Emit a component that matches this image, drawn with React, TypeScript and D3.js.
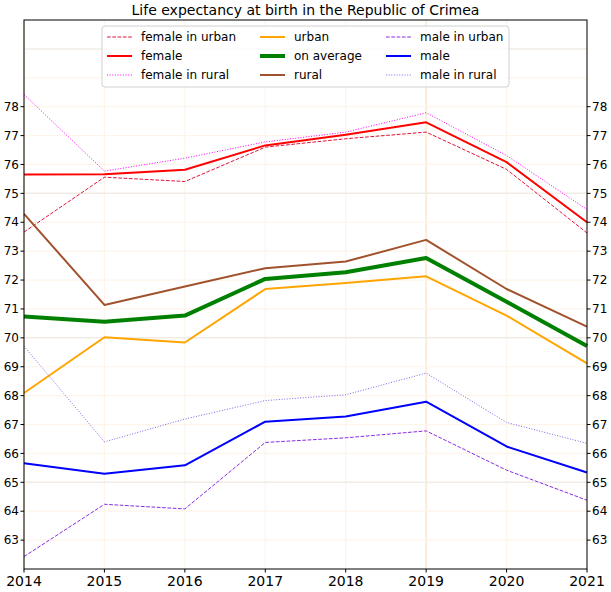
import React from "react";
import * as d3 from "d3";

const years = [2014, 2015, 2016, 2017, 2018, 2019, 2020, 2021];
const femaleUrban = [73.66, 75.56, 75.41, 76.6, 76.89, 77.12, 75.83, 73.63];
const female = [75.65, 75.66, 75.82, 76.66, 77.03, 77.46, 76.08, 74.0];
const femaleRural = [78.42, 75.77, 76.22, 76.78, 77.12, 77.79, 76.31, 74.44];
const urban = [68.09, 70.02, 69.84, 71.69, 71.9, 72.13, 70.77, 69.12];
const average = [70.74, 70.56, 70.77, 72.04, 72.27, 72.76, 71.25, 69.72];
const rural = [74.29, 71.14, 71.78, 72.41, 72.64, 73.39, 71.69, 70.39];
const maleUrban = [62.43, 64.24, 64.08, 66.38, 66.54, 66.78, 65.42, 64.38];
const male = [65.66, 65.3, 65.59, 67.1, 67.28, 67.79, 66.24, 65.34];
const maleRural = [69.71, 66.4, 67.19, 67.83, 68.03, 68.78, 67.07, 66.35];
const yTicks = [63, 64, 65, 66, 67, 68, 69, 70, 71, 72, 73, 74, 75, 76, 77, 78];
const yGrid = [63, 64, 65, 66, 67, 68, 69, 70, 71, 72, 73, 74, 75, 76, 77, 78, 79, 80];

type S = { name: string; data: number[]; color: string; width: number; dash?: string };
const series: S[] = [
  { name: "female in urban", data: femaleUrban, color: "#dc143c", width: 1, dash: "3.7,1.6" },
  { name: "female", data: female, color: "#ff0000", width: 2 },
  { name: "female in rural", data: femaleRural, color: "#ff00ff", width: 1, dash: "1,1.65" },
  { name: "urban", data: urban, color: "#ffa500", width: 2 },
  { name: "on average", data: average, color: "#008000", width: 4 },
  { name: "rural", data: rural, color: "#a0522d", width: 2 },
  { name: "male in urban", data: maleUrban, color: "#8a2be2", width: 1, dash: "3.7,1.6" },
  { name: "male", data: male, color: "#0000ff", width: 2 },
  { name: "male in rural", data: maleRural, color: "#7b68ee", width: 1, dash: "1,1.65" },
];
const drawOrder = [0, 1, 2, 3, 5, 6, 7, 8, 4];

const W = 611, H = 592;
const L = 24, R = 587, T = 20, B = 569;
const FONT = "DejaVu Sans, sans-serif";

export default function App() {
  const x = d3.scaleLinear().domain([2014, 2021]).range([L, R]);
  const y = d3.scaleLinear().domain([62, 81]).range([B, T]);
  const line = d3
    .line<number>()
    .x((_, i) => x(years[i]))
    .y((d) => y(d));

  const legCols = [
    { lx: 107, tx: 141 },
    { lx: 260, tx: 294 },
    { lx: 386, tx: 420 },
  ];
  const legRows = [37, 56, 75];

  return (
    <svg width={W} height={H} style={{ position: "absolute", left: 0, top: 0, background: "#fff" }} fontFamily={FONT}>
      {/* grid */}
      {years.map((yr) => (
        <line key={"vg" + yr} x1={x(yr)} x2={x(yr)} y1={T} y2={B}
          stroke={(yr - 2014) % 5 === 0 ? "#fbe8d4" : "#fef4ea"} strokeWidth={yr % 5 === 4 ? 1.5 : 1.2} />
      ))}
      {yGrid.map((v) => (
        <line key={"hg" + v} x1={L} x2={R} y1={y(v)} y2={y(v)}
          stroke={v % 5 === 0 ? "#f1ebe5" : "#fdf4ea"} strokeWidth={v % 5 === 0 ? 1.5 : 1.2} />
      ))}
      {/* lines */}
      {drawOrder.map((i) => {
        const s = series[i];
        return (
          <path key={s.name} d={line(s.data) || ""} fill="none" stroke={s.color}
            strokeWidth={s.width} strokeDasharray={s.dash} strokeLinejoin="round" />
        );
      })}
      {/* frame */}
      <rect x={L} y={T} width={R - L} height={B - T} fill="none" stroke="#000" strokeWidth={1} />
      {/* y ticks left & right */}
      {yTicks.map((v) => (
        <g key={"yt" + v}>
          <line x1={L - 3.5} x2={L} y1={y(v)} y2={y(v)} stroke="#000" />
          <text x={L - 5} y={y(v)} dy="0.35em" textAnchor="end" fontSize={12} fill="#000">{v}</text>
          <line x1={R} x2={R + 3.5} y1={y(v)} y2={y(v)} stroke="#000" />
          <text x={R + 5} y={y(v)} dy="0.35em" textAnchor="start" fontSize={12} fill="#000">{v}</text>
        </g>
      ))}
      {/* x ticks */}
      {years.map((yr) => (
        <g key={"xt" + yr}>
          <line x1={x(yr)} x2={x(yr)} y1={B} y2={B + 3.5} stroke="#000" />
          <text x={x(yr)} y={B + 17} textAnchor="middle" fontSize={14} fill="#000">{yr}</text>
        </g>
      ))}
      {/* title */}
      <text x={(L + R) / 2} y={15} textAnchor="middle" fontSize={14} fill="#000">
        Life expectancy at birth in the Republic of Crimea
      </text>
      {/* legend */}
      <rect x={102} y={26} width={407} height={61} rx={3} fill="#fff" fillOpacity={0.8} stroke="#d0d0d0" strokeWidth={1} />
      {series.map((s, i) => {
        const c = legCols[Math.floor(i / 3)];
        const ry = legRows[i % 3];
        return (
          <g key={"lg" + s.name}>
            <line x1={c.lx} x2={c.lx + 25} y1={ry} y2={ry} stroke={s.color} strokeWidth={s.width} strokeDasharray={s.dash} />
            <text x={c.tx} y={ry} dy="0.35em" fontSize={12} fill="#000">{s.name}</text>
          </g>
        );
      })}
    </svg>
  );
}
